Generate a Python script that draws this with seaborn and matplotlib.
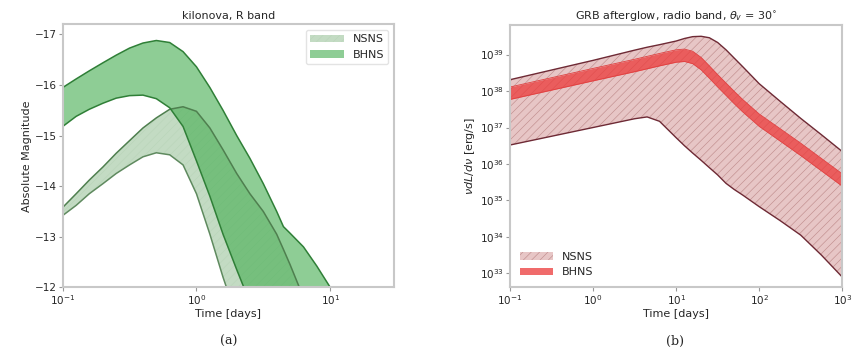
import numpy as np
import matplotlib
matplotlib.use('Agg')
import matplotlib.pyplot as plt
import seaborn as sns

# ---- kilonova, R band (absolute magnitude) ----
t_kn = [0.1, 0.126, 0.158, 0.2, 0.251, 0.316, 0.398, 0.501, 0.631, 0.794, 1.0,
        1.26, 1.58, 2.0, 2.51, 3.16, 3.98, 4.47, 5.01, 6.31, 7.94, 10.0, 12.6]
bhns_kn_hi = [-15.95, -16.12, -16.28, -16.44, -16.59, -16.73, -16.83, -16.88, -16.84, -16.66, -16.36,
              -15.95, -15.5, -15.0, -14.55, -14.05, -13.5, -13.2, -13.07, -12.8, -12.42, -12.0, -11.6]
bhns_kn_lo = [-15.18, -15.38, -15.52, -15.64, -15.74, -15.79, -15.8, -15.73, -15.55, -15.18, -14.5,
              -13.8, -13.05, -12.35, -11.7, -11.0, -10.5, -10.3, -10.0, -9.5, -9.0, -8.5, -8.0]
nsns_kn_hi = [-13.58, -13.85, -14.12, -14.38, -14.65, -14.9, -15.15, -15.35, -15.52, -15.57, -15.48,
              -15.15, -14.72, -14.25, -13.85, -13.5, -13.05, -12.75, -12.45, -11.8, -11.2, -10.6, -10.0]
nsns_kn_lo = [-13.42, -13.62, -13.85, -14.05, -14.25, -14.42, -14.58, -14.66, -14.62, -14.42, -13.85,
              -13.05, -12.2, -11.4, -10.8, -10.3, -9.8, -9.6, -9.4, -9.0, -8.6, -8.2, -7.8]

# ---- GRB afterglow, radio band (log10 nu L_nu) ----
t_grb = [0.1, 1.0, 3.16, 4.47, 6.31, 10.0, 12.6, 15.8, 20.0, 25.1, 31.6, 39.8,
         50.1, 63.1, 100.0, 178.0, 316.0, 562.0, 1000.0]
nsns_grb_hi = [38.31, 38.84, 39.12, 39.2, 39.27, 39.37, 39.44, 39.49, 39.5, 39.46, 39.33, 39.13,
               38.9, 38.67, 38.2, 37.72, 37.25, 36.8, 36.34]
nsns_grb_lo = [36.52, 37.0, 37.24, 37.29, 37.17, 36.72, 36.5, 36.3, 36.1, 35.9, 35.7, 35.47,
               35.3, 35.15, 34.83, 34.45, 34.05, 33.5, 32.9]
bhns_grb_hi = [38.11, 38.62, 38.87, 38.95, 39.03, 39.13, 39.15, 39.09, 38.92, 38.69, 38.45, 38.22,
               37.99, 37.77, 37.37, 36.97, 36.57, 36.15, 35.73]
bhns_grb_lo = [37.77, 38.28, 38.53, 38.61, 38.69, 38.79, 38.81, 38.75, 38.58, 38.35, 38.11, 37.88,
               37.65, 37.43, 37.03, 36.63, 36.23, 35.81, 35.39]

sns.set_style('white')
plt.rcParams['axes.edgecolor'] = '#c8c8c8'
plt.rcParams['axes.linewidth'] = 1.5
plt.rcParams['hatch.linewidth'] = 0.45

fig = plt.figure(figsize=(8.58, 3.54), dpi=100)
ax1 = fig.add_axes([0.0731, 0.1884, 0.3861, 0.7429])
ax2 = fig.add_axes([0.5944, 0.1884, 0.3873, 0.740])

# kilonova panel
ax1.fill_between(t_kn, nsns_kn_lo, nsns_kn_hi, facecolor='#a3c9a3', alpha=0.65,
                 edgecolor='#b5d3b5', linewidth=0, hatch='////', label='NSNS')
ax1.fill_between(t_kn, bhns_kn_lo, bhns_kn_hi, facecolor='#43ad4f', alpha=0.6,
                 linewidth=0, label='BHNS')
for y, c in [(nsns_kn_hi, '#4f7f4f'), (nsns_kn_lo, '#5f8a5f'),
             (bhns_kn_hi, '#2f7f37'), (bhns_kn_lo, '#2f7f37')]:
    sns.lineplot(x=t_kn, y=y, ax=ax1, color=c, lw=1.1, estimator=None, sort=False, legend=False)
ax1.set_xscale('log')
ax1.set_xlim(0.1, 30)
ax1.set_ylim(-12, -17.2)
ax1.set_yticks([-12, -13, -14, -15, -16, -17])
ax1.set_title('kilonova, R band', fontsize=8, pad=4)
ax1.set_xlabel('Time [days]', fontsize=8, labelpad=1)
ax1.set_ylabel('Absolute Magnitude', fontsize=8, labelpad=2)
ax1.legend(loc='upper right', fontsize=8, handlelength=3, frameon=True, edgecolor='#dddddd')

# GRB afterglow panel
ax2.fill_between(t_grb, 10 ** np.array(nsns_grb_lo), 10 ** np.array(nsns_grb_hi), facecolor='#d49898',
                 alpha=0.55, edgecolor='#a06060', linewidth=0, hatch='////', label='NSNS')
ax2.fill_between(t_grb, 10 ** np.array(bhns_grb_lo), 10 ** np.array(bhns_grb_hi), facecolor='#ec3a3a',
                 alpha=0.75, linewidth=0, label='BHNS')
for y in [nsns_grb_hi, nsns_grb_lo]:
    sns.lineplot(x=t_grb, y=10 ** np.array(y), ax=ax2, color='#6e2a35', lw=1.0,
                 estimator=None, sort=False, legend=False)
for y in [bhns_grb_hi, bhns_grb_lo]:
    sns.lineplot(x=t_grb, y=10 ** np.array(y), ax=ax2, color='#e04040', lw=0.6,
                 estimator=None, sort=False, legend=False)
ax2.set_xscale('log')
ax2.set_yscale('log')
ax2.set_xlim(0.1, 1000)
ax2.set_ylim(10 ** 32.62, 10 ** 39.8)
ax2.set_yticks([1e33, 1e34, 1e35, 1e36, 1e37, 1e38, 1e39])
ax2.minorticks_off()
ax2.set_title(r'GRB afterglow, radio band, $\theta_v$ = 30$^{\circ}$', fontsize=8, pad=4)
ax2.set_xlabel('Time [days]', fontsize=8, labelpad=1)
ax2.set_ylabel(r'$\nu dL/d\nu$ [erg/s]', fontsize=8, labelpad=2)
ax2.legend(loc='lower left', fontsize=8, handlelength=3, frameon=False)

for ax in (ax1, ax2):
    ax.tick_params(axis='both', which='major', labelsize=7.5, length=3, color='#999999',
                   direction='out', bottom=True, left=True, pad=1.5)
    ax.tick_params(axis='x', which='minor', bottom=False)

fig.text(0.267, 0.025, '(a)', fontsize=9, family='DejaVu Serif', ha='center')
fig.text(0.787, 0.025, '(b)', fontsize=9, family='DejaVu Serif', ha='center')

fig.savefig('out.png', dpi=100)
